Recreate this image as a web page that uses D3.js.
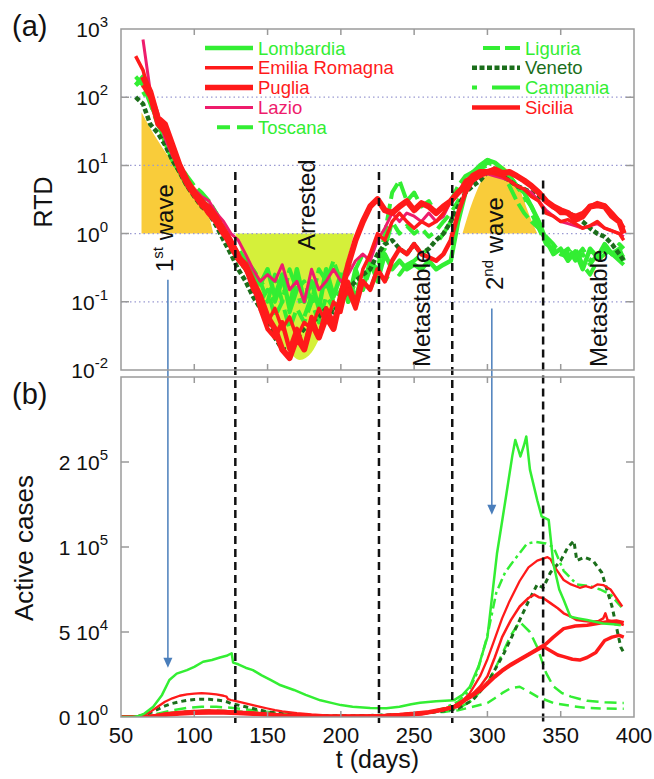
<!DOCTYPE html>
<html>
<head>
<meta charset="utf-8">
<script src="https://cdn.jsdelivr.net/npm/d3@7"></script>
<style>
body { margin: 0; background: #fff; }
text { font-family: "Liberation Sans", Arial, sans-serif; }
</style>
</head>
<body>
<div id="chart"></div>
<script>
// ---- data (a): RTD, one value every 5 days ----
let rtdDays = [60,65,70,75,80,85,90,95,100,105,110,115,120,125,130,135,140,145,150,155,160,165,170,175,180,185,190,195,200,205,210,215,220,225,230,235,240,245,250,255,260,265,270,275,280,285,290,295,300,305,310,315,320,325,330,335,340,345,350,355,360,365,370,375,380,385,390,393];

let rtdLombardia = [150,200,90,45,22,12,8,5,4,3,2.5,1.6,1.0,0.7,0.5,0.35,0.25,0.18,0.3,0.12,0.25,0.08,0.3,0.1,0.2,0.08,0.3,0.12,0.25,0.1,0.3,0.15,0.4,0.2,0.5,0.3,0.4,0.3,0.35,0.3,0.4,0.3,0.35,0.4,1.5,4,7,10,12,11,9,7,5,4,2.5,1.5,0.8,0.5,0.6,0.4,0.55,0.3,0.6,0.45,0.7,0.5,0.6,0.4];
let rtdEmilia = [400,250,100,50,30,15,8,5,3.5,2.5,2,1.5,1.0,0.6,0.4,0.3,0.15,0.1,0.05,0.08,0.04,0.06,0.03,0.05,0.04,0.08,0.05,0.1,0.07,0.2,0.1,0.3,0.5,1.0,0.8,1.5,2,1.5,1.2,1.5,1.3,1.5,2,3,4,6,7,8,8,7.5,7,6,5,4.5,3.5,3,2,1.8,1.5,1.6,1.4,1.2,1.3,1.5,1.2,1.1,1.0,0.8];
let rtdPuglia = [null,200,120,50,40,20,10,6,4,3,2,1.5,1.0,0.7,0.45,0.35,0.2,0.12,0.06,0.04,0.02,0.015,0.03,0.02,0.05,0.03,0.06,0.04,0.12,0.35,0.8,1.5,2.5,3.2,2.2,2,2.5,3,2.2,2.8,2.5,2,2.5,3,4,5,7,8,8,8.5,7.5,8,7,6,5,4,3,2.5,2.2,2,1.6,1.8,2.5,2.6,2.5,1.8,1.5,1.0];
let rtdLazio = [null,700,120,60,25,14,9,6,4.5,3.5,3,2,1.5,1.0,0.8,0.5,0.3,0.2,0.25,0.2,0.35,0.15,0.2,0.1,0.3,0.15,0.2,0.3,0.2,0.25,0.4,0.5,0.4,0.8,1.2,2,1.5,2,1.8,1.5,2,1.5,1.8,3,4,5,6,7,7.5,7,6.5,6,5,4.5,4,3,2.2,1.8,1.5,1.4,1.3,1.2,1.3,1.4,1.2,1.1,1.0,0.9];
let rtdToscana = [200,150,80,40,25,15,9,6,4,3.5,2.8,2,1.2,0.7,0.4,0.3,0.2,0.1,0.15,0.06,0.1,0.04,0.08,0.05,0.1,0.05,0.12,0.08,0.15,0.1,0.2,0.15,0.3,0.4,0.6,1.5,1.0,1.3,1.0,1.2,0.9,1.1,1.5,2,3,5,7,9,10,9,8,7,5,3.5,2.5,1.5,0.9,0.7,0.5,0.6,0.4,0.5,0.35,0.5,0.6,0.5,0.7,0.6];
let rtdLiguria = [150,180,100,50,30,18,10,7,5,4,3,2,1.2,0.8,0.5,0.4,0.3,0.2,0.1,0.25,0.1,0.3,0.15,0.2,0.1,0.3,0.2,0.4,0.2,0.35,0.3,0.5,0.4,0.3,1.0,4,6,3,4,2.5,3,2,2.5,3,5,7,8,9,11,10,8,5,3,2,1.5,1.2,0.7,0.6,0.5,0.45,0.6,0.35,0.25,0.4,0.5,0.6,0.45,0.5];
let rtdVeneto = [100,80,40,30,20,12,8,5,3.5,2.5,2,1.3,0.8,0.5,0.3,0.2,0.12,0.08,0.05,0.03,0.02,0.02,0.03,0.04,0.05,0.06,0.08,0.07,0.1,0.15,0.2,0.25,0.3,0.5,0.7,0.8,0.6,0.5,0.7,0.5,0.6,0.8,1.0,1.5,2.5,4,5,6,8,8,7,6,5,4.5,4,3.5,3,2.5,2.2,2,1.8,1.5,1.2,1.0,0.9,0.7,0.5,0.4];
let rtdCampania = [null,120,80,45,25,14,9,6,4,3,2.2,1.5,1.0,0.8,0.6,0.4,0.3,0.2,0.15,0.1,0.2,0.07,0.15,0.06,0.12,0.08,0.2,0.1,0.15,0.2,0.12,0.25,0.15,0.3,0.2,0.3,0.25,0.35,0.4,0.5,0.6,0.7,1.0,1.5,3,5,8,10,12,11,9,7,5,3.5,2,1.2,0.8,0.6,0.7,0.5,0.45,0.6,0.4,0.55,0.6,0.5,0.4,0.35];
let rtdSicilia = [null,150,100,40,30,20,10,6,4,3,2.5,1.8,1.2,0.8,0.5,0.3,0.2,0.08,0.04,0.03,0.05,0.02,0.04,0.02,0.06,0.03,0.08,0.05,0.1,0.15,0.08,0.2,0.15,0.3,0.2,0.4,0.6,0.5,0.7,0.5,0.45,0.4,0.5,0.8,2,4,6,7,8,9,8,8,7,6,5,4,3,2.5,2,2,1.8,2,2.5,2.8,2.6,2,1.5,1.2];

// shaded phases of (a): [day, RTD]
let wave1Fill = [[64,60],[70,35],[80,16],[90,8],[100,5],[105,3.5],[110,1.8],[113,1]];
let arrestedFill = [[128,1],[135,0.35],[145,0.1],[155,0.035],[165,0.018],[172,0.014],[180,0.018],[190,0.05],[200,0.2],[209,1]];
let wave2Fill = [[283,1],[290,3],[297,6.5],[303,9],[309,10],[315,8],[322,4.5],[328,2],[334,1]];

// ---- data (b): active cases, thousands, [day, value] ----
let casesLombardia = [[50,0],[58,0],[62,0.6],[66,2],[72,6],[78,13],[83,21.8],[88,25.5],[95,27.6],[100,29.5],[106,32.5],[112,33.5],[117.5,35],[122,36],[125.5,37.5],[126.5,32],[130,31],[135,29],[140,27.6],[146,24.5],[152,21.8],[158,19],[168,15.9],[176,13],[186,9.8],[195,8],[200,7],[208,6],[220,5.3],[231,5.1],[240,6],[248,7.5],[254,8.4],[265,9.2],[277,9.8],[283,13],[288,17.8],[294,30],[300,47],[306.5,96],[310,130],[313,163],[317,215],[319,252],[321,230],[322.5,213],[325,240],[326.5,260],[329,191],[334,155],[337,136],[341.8,132],[345,90],[349,75],[352,69],[356.6,59],[362,58],[368,57],[379,55],[386,54.5],[391,54]];
let casesEmilia = [[50,0],[60,0.3],[65,1],[70,3],[75,6],[80,9],[85,11],[90,12.5],[95,13.3],[100,13.8],[105,14],[110,13.8],[115,13.3],[120,12.5],[122,12],[123,10.5],[125,10],[130,9],[135,8],[140,7],[145,6],[150,5],[155,4],[160,3.3],[170,2.2],[180,1.5],[190,1],[200,0.8],[210,0.8],[220,1],[230,1.3],[240,1.8],[250,2.5],[260,3.5],[270,5],[280,7],[288,14],[295,24],[300,34],[305,46],[310,58],[315,68],[322,80],[328,88],[334,92],[341,94],[343,93],[346,88],[352,80.6],[357,78],[363,76],[367,77],[371,76],[375,78],[379,77.6],[384,75],[388,70],[392,65]];
let casesLazio = [[50,0],[60,0],[70,0.5],[80,2],[90,3],[100,3.5],[110,3.8],[120,3.6],[130,3],[140,2.5],[150,1.8],[160,1.2],[180,0.8],[200,0.6],[220,0.8],[240,1.5],[260,3],[270,4],[280,6],[288,12],[295,18],[300,24],[305,35],[310,47],[316,57],[322,65],[328,70],[332,72],[335,70.5],[338,70],[343,67],[348,64],[352,61],[357,59],[361,57],[366,56.5],[371,56],[376,56.5],[379,58],[380.5,61],[382,57],[386,56],[390,55],[393,54]];
let casesPuglia = [[50,0],[60,0],[70,0.5],[80,1.5],[90,2.5],[100,3],[110,3.3],[120,3.2],[130,2.8],[140,2.3],[150,1.8],[160,1.2],[170,0.8],[180,0.5],[200,0.3],[220,0.4],[240,0.8],[255,1.8],[266,3.5],[277,6],[288,12],[295,16],[300,20],[305,24],[310,27.5],[316,31],[322,34],[330,38],[336,41],[340,43],[345,47],[352,52],[360,53.5],[368,54],[375,55],[382,56],[388,56.5],[393,55.5]];
let casesSicilia = [[50,0],[60,0],[70,0.3],[80,1],[90,1.8],[100,2.2],[110,2.4],[120,2.3],[130,2],[140,1.6],[150,1.2],[160,0.8],[180,0.5],[200,0.4],[220,0.5],[240,1],[255,2],[266,3.5],[277,6],[288,11.5],[295,15.5],[300,19.5],[305,23.5],[310,27],[316,30.5],[322,33.5],[330,37.5],[336,40.5],[339,41],[343,39],[348,36.5],[352,35.5],[358,34],[363,33.5],[368,35],[374,38],[380,45],[385,47],[390,48],[393,47]];
let casesVeneto = [[50,0],[60,0.2],[65,1],[70,2.5],[75,4.5],[80,6.5],[85,8],[90,9],[95,9.8],[100,10.3],[105,10.5],[110,10.4],[115,10],[120,9.5],[122,9],[125,8],[130,7],[135,6],[140,5],[145,4],[150,3],[160,2],[170,1.3],[180,0.9],[200,0.7],[220,0.9],[240,1.5],[260,2.5],[270,3.5],[280,5],[290,10],[300,20],[311,37],[322,57],[328,68],[334,78],[338,76],[343,85],[350,92],[355,100],[359,107],[361,92],[366,94],[372,92],[378,85],[385,65],[391,41],[393,38]];
let casesCampania = [[50,0],[65,0.3],[75,1.5],[85,2.5],[95,3.2],[105,3.5],[115,3.3],[125,2.8],[135,2.2],[145,1.5],[160,0.8],[180,0.4],[200,0.3],[220,0.5],[240,1.2],[260,3],[270,5],[280,9],[287,15],[293,26],[300,48],[306,73],[312,85],[318,92],[327,104],[333,106],[340,104],[345,100],[352,86],[361,78],[370,77],[377,75],[384,72],[391,65],[393,63]];
let casesToscana = [[50,0],[65,0.3],[75,2],[85,4],[95,5.3],[105,6],[115,6],[125,5.5],[135,4.5],[145,3.5],[160,2],[180,1],[200,0.6],[220,0.8],[240,1.5],[260,3],[270,4],[280,5],[290,10],[300,20],[305,28],[310,37],[316,48],[322,56],[329,50],[334,41],[340,26],[345,18],[351,14],[357,12],[368,9.5],[380,8.7],[391,8.2],[393,8.2]];
let casesLiguria = [[50,0],[65,0.2],[75,1.2],[85,2.5],[95,3.3],[105,3.7],[115,3.8],[125,3.5],[135,3],[145,2.3],[160,1.3],[180,0.6],[200,0.4],[220,0.6],[240,1.5],[260,2.5],[270,3],[280,4],[290,6],[300,8.2],[305,11],[310,14],[316,17],[322,17.8],[328,15],[334,12],[345,8.2],[357,6.5],[368,5.3],[380,5],[391,4.8],[393,4.8]];

// phase boundaries, arrows, labels
let phaseDays = [128, 226, 276, 338];
let phaseTopRtd = [8, 8, 8, 6];
let arrowDays = [82, 303];
let arrowFromRtd = [0.21, 0.08];
let arrowToCases = [29, 138];

let xTicks = [50,100,150,200,250,300,350,400];
let rtdTicks = [0.01,0.1,1,10,100,1000];
let rtdExp = ["-2","-1","0","1","2","3"];
let casesTicks = [0,50,100,200];
let casesMant = ["0","5","1","2"];
let casesExp = ["0","4","5","5"];

let legendLeft = ["Lombardia","Emilia Romagna","Puglia","Lazio","Toscana"];
let legendRight = ["Liguria","Veneto","Campania","Sicilia"];

// ---- styles ----
let green = "#33ee33", red = "#ff1a1a", dark = "#1b6e1b", pink = "#ee1c6c";
let st = {
  "Lombardia":      {c: green, wt: 4.5, wb: 2.5, dt: null,          db: null,       lx: 205},
  "Emilia Romagna": {c: red,   wt: 3.5, wb: 2.3, dt: null,          db: null,       lx: 205},
  "Puglia":         {c: red,   wt: 6,   wb: 3.5, dt: null,          db: null,       lx: 205},
  "Lazio":          {c: pink,  wt: 3,   wb: 2.5, dt: null,          db: null,       lx: 205, cb: red},
  "Toscana":        {c: green, wt: 4,   wb: 2.5, dt: "13,7,17,7",   db: "12,6",     lx: 217},
  "Liguria":        {c: green, wt: 4,   wb: 2.5, dt: "17,5",        db: "10,6",     lx: 483},
  "Veneto":         {c: dark,  wt: 4.5, wb: 3,   dt: "5,2.5",       db: "5,4",      lx: 472},
  "Campania":       {c: green, wt: 4,   wb: 2.5, dt: "5,15,28,8",   db: "10,4,3,4", lx: 472},
  "Sicilia":        {c: red,   wt: 4.5, wb: 3.5, dt: null,          db: null,       lx: 472}
};

let topSeries = [
  ["Lombardia", rtdLombardia], ["Toscana", rtdToscana], ["Liguria", rtdLiguria], ["Campania", rtdCampania],
  ["Veneto", rtdVeneto], ["Lazio", rtdLazio], ["Emilia Romagna", rtdEmilia], ["Puglia", rtdPuglia], ["Sicilia", rtdSicilia]
];
let botSeries = [
  ["Liguria", casesLiguria], ["Toscana", casesToscana], ["Campania", casesCampania], ["Veneto", casesVeneto],
  ["Sicilia", casesSicilia], ["Puglia", casesPuglia], ["Lazio", casesLazio], ["Emilia Romagna", casesEmilia], ["Lombardia", casesLombardia]
];

let width = 654, height = 779;
let svg = d3.select("#chart").append("svg")
  .attr("width", width)
  .attr("height", height);

let x = d3.scaleLinear().domain([50, 400]).range([121, 634]);
let yTop = d3.scaleLog().domain([0.01, 1000]).range([370, 29]);
let yBot = d3.scaleLinear().domain([0, 50, 100, 200, 400]).range([717, 632, 547, 462, 377]);

let defs = svg.append("defs");
defs.append("clipPath").attr("id", "clipTop").append("rect")
  .attr("x", x(50)).attr("y", yTop(1000)).attr("width", x(400) - x(50)).attr("height", yTop(0.01) - yTop(1000));
defs.append("clipPath").attr("id", "clipBot").append("rect")
  .attr("x", x(50)).attr("y", yBot(400)).attr("width", x(400) - x(50)).attr("height", yBot(0) - yBot(400));

// ---- panel (a) ----
let topG = svg.append("g");
let fills = topG.append("g").attr("clip-path", "url(#clipTop)");
let fillArea = d3.area()
  .x(d => x(d[0]))
  .y0(yTop(1))
  .y1(d => yTop(d[1]))
  .curve(d3.curveMonotoneX);

fills.append("path").attr("d", fillArea(wave1Fill)).attr("fill", "#f9cc3a");
fills.append("path").attr("d", fillArea(arrestedFill)).attr("fill", "#d5f03a");
fills.append("path").attr("d", fillArea(wave2Fill)).attr("fill", "#f9cc3a");

topG.append("g").selectAll("line")
  .data([0.1, 1, 10, 100])
  .enter().append("line")
  .attr("x1", x(50)).attr("x2", x(400))
  .attr("y1", d => yTop(d)).attr("y2", d => yTop(d))
  .attr("stroke", "#9a9ad2")
  .attr("stroke-width", 1.3)
  .attr("stroke-dasharray", "1.5,3");

let topLine = d3.line()
  .defined(d => d[1] != null)
  .x(d => x(d[0]))
  .y(d => yTop(d[1]));

topG.append("g").attr("clip-path", "url(#clipTop)")
  .selectAll("path")
  .data(topSeries)
  .enter().append("path")
  .attr("d", d => topLine(rtdDays.map((t, i) => [t, d[1][i]])))
  .attr("fill", "none")
  .attr("stroke", d => st[d[0]].c)
  .attr("stroke-width", d => st[d[0]].wt)
  .attr("stroke-dasharray", d => st[d[0]].dt)
  .attr("stroke-linejoin", "round");

// ---- panel (b) ----
let botG = svg.append("g");
let botLine = d3.line()
  .x(d => x(d[0]))
  .y(d => yBot(d[1]));

botG.append("g").attr("clip-path", "url(#clipBot)")
  .selectAll("path")
  .data(botSeries)
  .enter().append("path")
  .attr("d", d => botLine(d[1]))
  .attr("fill", "none")
  .attr("stroke", d => st[d[0]].cb || st[d[0]].c)
  .attr("stroke-width", d => st[d[0]].wb)
  .attr("stroke-dasharray", d => st[d[0]].db)
  .attr("stroke-linejoin", "round");

// phase boundaries
svg.append("g").selectAll("line")
  .data(phaseDays)
  .enter().append("line")
  .attr("x1", d => x(d)).attr("x2", d => x(d))
  .attr("y1", (d, i) => yTop(phaseTopRtd[i]))
  .attr("y2", yBot(0) + 6)
  .attr("stroke", "#111")
  .attr("stroke-width", 2.5)
  .attr("stroke-dasharray", "8,5");

// blue arrows
let arrows = svg.append("g");
arrowDays.forEach((d, i) => {
  let tip = yBot(arrowToCases[i]);
  arrows.append("line")
    .attr("x1", x(d)).attr("x2", x(d))
    .attr("y1", yTop(arrowFromRtd[i])).attr("y2", tip - 8)
    .attr("stroke", "#4a7ebb").attr("stroke-width", 1.5);
  arrows.append("path")
    .attr("d", `M${x(d) - 4.5},${tip - 10}L${x(d) + 4.5},${tip - 10}L${x(d)},${tip}Z`)
    .attr("fill", "#4a7ebb");
});

// rotated phase labels
function vLabel(px, py, parts) {
  let t = svg.append("text")
    .attr("transform", `translate(${px},${py}) rotate(-90)`)
    .attr("font-size", 24)
    .attr("fill", "#111");
  parts.forEach(p => {
    t.append("tspan").text(p[0]).attr("font-size", p[1]).attr("dy", p[2]);
  });
}
vLabel(173, 272, [["1", 24, 0], ["st", 15, -10], [" wave", 24, 10]]);
vLabel(315, 250, [["Arrested", 24, 0]]);
vLabel(430, 367, [["Metastable", 24, 0]]);
vLabel(503, 290, [["2", 24, 0], ["nd", 15, -10], [" wave", 24, 10]]);
vLabel(607, 367, [["Metastable", 24, 0]]);

// legend
let leg = svg.append("g");
function legendRow(name, col, row) {
  let s = st[name];
  let ly = 48 + row * 19.8;
  let x1 = col === 0 ? 253 : 520;
  let tx = col === 0 ? 258 : 525;
  leg.append("line")
    .attr("x1", s.lx).attr("x2", x1)
    .attr("y1", ly).attr("y2", ly)
    .attr("stroke", s.c)
    .attr("stroke-width", Math.min(s.wt, 5.5))
    .attr("stroke-dasharray", s.dt);
  leg.append("text")
    .attr("x", tx).attr("y", ly + 6.5)
    .attr("font-size", 18.5)
    .attr("fill", s.c)
    .text(name);
}
legendLeft.forEach((n, i) => legendRow(n, 0, i));
legendRight.forEach((n, i) => legendRow(n, 1, i));

// ---- frames and ticks ----
function frame(y0, y1) {
  svg.append("rect")
    .attr("x", x(50)).attr("y", y0)
    .attr("width", x(400) - x(50)).attr("height", y1 - y0)
    .attr("fill", "none").attr("stroke", "#9a9a9a").attr("stroke-width", 1.5);
  let inner = xTicks.slice(1, -1);
  svg.append("g").selectAll("path")
    .data(inner)
    .enter().append("path")
    .attr("d", d => `M${x(d)},${y0}v6M${x(d)},${y1}v-6`)
    .attr("stroke", "#9a9a9a").attr("stroke-width", 1.5);
}
frame(yTop(1000), yTop(0.01));
frame(yBot(400), yBot(0));

svg.append("g").selectAll("path")
  .data(rtdTicks.slice(1, -1))
  .enter().append("path")
  .attr("d", d => `M${x(50)},${yTop(d)}h8M${x(400)},${yTop(d)}h-8`)
  .attr("stroke", "#9a9a9a").attr("stroke-width", 1.5);
svg.append("g").selectAll("path")
  .data(casesTicks.slice(1))
  .enter().append("path")
  .attr("d", d => `M${x(50)},${yBot(d)}h8M${x(400)},${yBot(d)}h-8`)
  .attr("stroke", "#9a9a9a").attr("stroke-width", 1.5);

// x tick labels
svg.append("g").selectAll("text")
  .data(xTicks)
  .enter().append("text")
  .attr("x", d => x(d)).attr("y", yBot(0) + 26)
  .attr("text-anchor", "middle")
  .attr("font-size", 22)
  .attr("fill", "#111")
  .text(d => d);

// y tick labels (a)
rtdTicks.forEach((v, i) => {
  let t = svg.append("text")
    .attr("x", 108).attr("y", yTop(v) + 8)
    .attr("text-anchor", "end")
    .attr("font-size", 21)
    .attr("fill", "#111");
  t.append("tspan").text("10");
  t.append("tspan").text(rtdExp[i]).attr("font-size", 15).attr("dy", -10);
});

// y tick labels (b)
casesTicks.forEach((v, i) => {
  let t = svg.append("text")
    .attr("x", 108).attr("y", yBot(v) + 8)
    .attr("text-anchor", "end")
    .attr("font-size", 21)
    .attr("fill", "#111");
  t.append("tspan").text(casesMant[i] + " 10");
  t.append("tspan").text(casesExp[i]).attr("font-size", 15).attr("dy", -10);
});

// axis titles and panel tags
svg.append("text")
  .attr("transform", "translate(52,202) rotate(-90)")
  .attr("text-anchor", "middle")
  .attr("font-size", 25).attr("fill", "#111")
  .text("RTD");
svg.append("text")
  .attr("transform", "translate(33,548) rotate(-90)")
  .attr("text-anchor", "middle")
  .attr("font-size", 26).attr("fill", "#111")
  .text("Active cases");
svg.append("text")
  .attr("x", (x(50) + x(400)) / 2).attr("y", 768)
  .attr("text-anchor", "middle")
  .attr("font-size", 25).attr("fill", "#111")
  .text("t (days)");
svg.append("text").attr("x", 12).attr("y", 36)
  .attr("font-size", 29).attr("fill", "#111").text("(a)");
svg.append("text").attr("x", 12).attr("y", 404)
  .attr("font-size", 29).attr("fill", "#111").text("(b)");
</script>
</body>
</html>
